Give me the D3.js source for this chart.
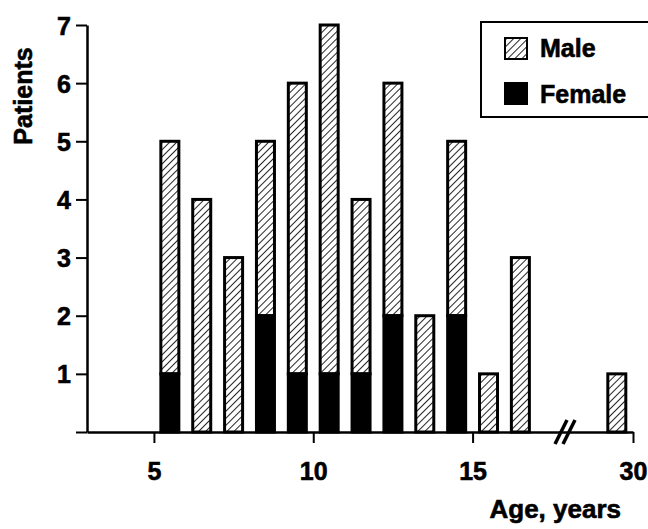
<!DOCTYPE html>
<html>
<head>
<meta charset="utf-8">
<script src="https://cdn.jsdelivr.net/npm/d3@7"></script>
<style>
  body { margin: 0; background: #fff; }
  svg { font-family: "Liberation Sans", Arial, sans-serif; font-weight: bold; }
  .heavy { stroke: #000; stroke-width: 0.6px; fill: #000; }
</style>
</head>
<body>
<svg id="chart" width="648" height="529"></svg>
<script>
// bar centre ages (bins 5-6, 6-7, ... and 29-30)
const ages = [5.5, 6.5, 7.5, 8.5, 9.5, 10.5, 11.5, 12.5, 13.5, 14.5, 15.5, 16.5, 29.5];
const female = [1, 0, 0, 2, 1, 1, 1, 2, 0, 2, 0, 0, 0];
const male   = [4, 4, 3, 3, 5, 6, 3, 4, 2, 3, 1, 3, 1];
const xTicks = [5, 10, 15, 30];
const yTicks = [0, 1, 2, 3, 4, 5, 6, 7];

const svg = d3.select('#chart');

// broken axis: 17.9 .. 27.9 squeezed to nothing
const x = d3.scaleLinear()
    .domain([2.9, 17.9, 27.9, 30])
    .range([87, 565, 565, 633]);
const y = d3.scaleLinear().domain([0, 7]).range([432, 25]);
const barW = 18;

const defs = svg.append('defs');
const pat = defs.append('pattern')
    .attr('id', 'hatch')
    .attr('patternUnits', 'userSpaceOnUse')
    .attr('width', 5).attr('height', 5)
    .attr('patternTransform', 'rotate(45)');
pat.append('rect').attr('width', 5).attr('height', 5).attr('fill', '#fff');
pat.append('line')
    .attr('x1', 0).attr('y1', 0).attr('x2', 0).attr('y2', 5)
    .attr('stroke', '#000').attr('stroke-width', 1.7);

const data = ages.map((a, i) => ({ age: a, f: female[i], m: male[i] }));

const bars = svg.append('g').selectAll('g').data(data).join('g');

bars.append('rect')
    .attr('x', d => x(d.age) - barW / 2)
    .attr('y', d => y(d.f + d.m))
    .attr('width', barW)
    .attr('height', d => y(d.f) - y(d.f + d.m))
    .attr('fill', 'url(#hatch)')
    .attr('stroke', '#000')
    .attr('stroke-width', 3);

bars.filter(d => d.f > 0).append('rect')
    .attr('x', d => x(d.age) - barW / 2)
    .attr('y', d => y(d.f))
    .attr('width', barW)
    .attr('height', d => y(0) - y(d.f))
    .attr('fill', '#000')
    .attr('stroke', '#000')
    .attr('stroke-width', 3);

// axes
const xAxis = svg.append('g')
    .attr('transform', `translate(0,${y(0)})`)
    .call(d3.axisBottom(x).tickValues(xTicks).tickSize(11).tickSizeOuter(0).tickPadding(19));
const yAxis = svg.append('g')
    .attr('transform', `translate(${x(2.9)},0)`)
    .call(d3.axisLeft(y).tickValues(yTicks).tickSize(11).tickSizeOuter(0).tickPadding(5)
        .tickFormat(d => d === 0 ? '' : d));

[xAxis, yAxis].forEach(g => {
    g.select('.domain').attr('stroke-width', 2.5);
    g.selectAll('.tick line').attr('stroke-width', 2);
    g.selectAll('.tick text')
        .attr('class', 'heavy')
        .attr('font-size', 25)
        .attr('font-weight', 'bold')
        .attr('font-family', '"Liberation Sans", Arial, sans-serif');
});
yAxis.selectAll('.tick text').attr('dy', '0.36em');

// axis break marks
const bx = x(17.9), by = y(0);
[-4, 4].forEach(o => {
    svg.append('line')
        .attr('x1', bx + o - 6).attr('y1', by + 12)
        .attr('x2', bx + o + 6).attr('y2', by - 12)
        .attr('stroke', '#000').attr('stroke-width', 3.5);
});

// titles
svg.append('text')
    .attr('class', 'heavy')
    .attr('transform', 'translate(32,96) rotate(-90)')
    .attr('text-anchor', 'middle')
    .attr('font-size', 25)
    .text('Patients');
svg.append('text')
    .attr('class', 'heavy')
    .attr('x', 621).attr('y', 518)
    .attr('text-anchor', 'end')
    .attr('font-size', 26)
    .text('Age, years');

// legend
const lg = svg.append('g');
lg.append('rect')
    .attr('x', 481).attr('y', 22)
    .attr('width', 190).attr('height', 95)
    .attr('fill', '#fff').attr('stroke', '#000').attr('stroke-width', 2);
const items = [['Male', 'url(#hatch)'], ['Female', '#000']];
items.forEach(([name, fill], i) => {
    lg.append('rect')
        .attr('x', 505).attr('y', 38 + i * 45)
        .attr('width', 22).attr('height', 21)
        .attr('fill', fill).attr('stroke', '#000').attr('stroke-width', 2);
    lg.append('text')
        .attr('class', 'heavy')
        .attr('x', 540).attr('y', 57 + i * 46)
        .attr('font-size', 25)
        .text(name);
});
</script>
</body>
</html>
